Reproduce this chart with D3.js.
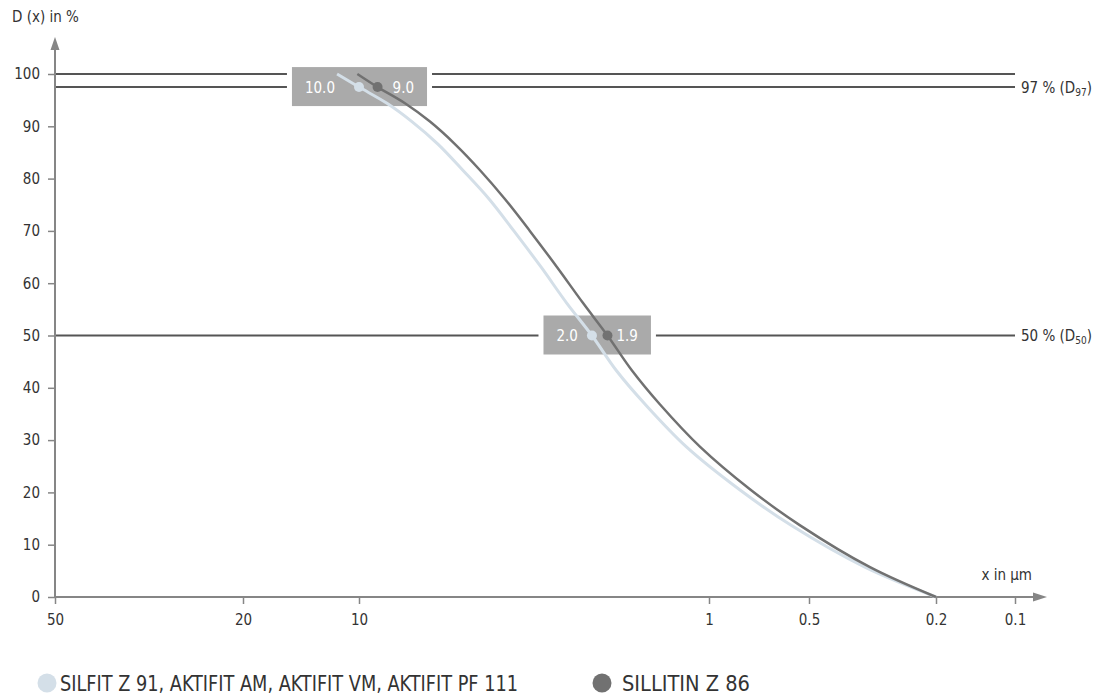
<!DOCTYPE html>
<html>
<head>
<meta charset="utf-8">
<script src="https://cdn.jsdelivr.net/npm/d3@7"></script>
<style>
  body { margin: 0; background: #fff; }
  text { font-family: "DejaVu Sans Condensed", "DejaVu Sans", sans-serif; }
</style>
</head>
<body>
<div id="container"></div>
<script>
// particle size (µm) vs cumulative share D(x) in %
var xTicks = [50, 20, 10, 1, 0.5, 0.2, 0.1];
var xTickLabels = ["50", "20", "10", "1", "0.5", "0.2", "0.1"];
var yTicks = [0, 10, 20, 30, 40, 50, 60, 70, 80, 90, 100];

var silfitSize = [11.4, 10.0, 8.32, 7.06, 5.95, 5.05, 4.25, 3.61, 3.02, 2.55, 2.16, 1.84, 1.52, 1.16, 0.812, 0.566, 0.334, 0.2];
var silfitPct  = [100, 97.5, 94.4, 90.9, 86.6, 81.6, 76.1, 70.0, 63.1, 56.2, 50, 43.3, 36.8, 28.7, 20.6, 13.7, 5.7, 0];
var sillitinSize = [10.1, 8.85, 7.39, 6.27, 5.32, 4.51, 3.83, 3.25, 2.72, 2.29, 1.95, 1.66, 1.38, 1.06, 0.753, 0.532, 0.322, 0.2];
var sillitinPct  = [100, 97.5, 94.4, 90.9, 86.6, 81.6, 76.1, 70.0, 63.1, 56.2, 50, 43.3, 36.8, 28.7, 20.6, 13.7, 5.7, 0];

var refValues = [97.5, 50];
var refLabels = ["97 %", "50 %"];
var refSubs = ["97", "50"];
var topLine = 100;

// marked points: [light, dark]
var markSize = [[10.0, 8.85], [2.16, 1.95]];
var markPct = [97.5, 50];
var markText = [["10.0", "9.0"], ["2.0", "1.9"]];

var legendNames = ["SILFIT Z 91, AKTIFIT AM, AKTIFIT VM, AKTIFIT PF 111", "SILLITIN Z 86"];
var lightColor = "#d4dfe8";
var darkColor = "#717171";

var svg = d3.select("#container")
  .append("svg")
  .attr("width", 1096)
  .attr("height", 698);

var x = d3.scaleLog()
  .domain(xTicks)
  .range([55, 243, 359, 709, 809, 936, 1015]);
var y = d3.scaleLinear().domain([0, 100]).range([597, 74]);

var axisColor = "#868686";
var textColor = "#333";

// y axis
var yAxis = svg.append("g")
  .attr("transform", "translate(55,0)")
  .call(d3.axisLeft(y).tickValues(yTicks).tickSize(7).tickSizeOuter(0).tickPadding(8));
yAxis.select(".domain").remove();
yAxis.selectAll(".tick line").attr("stroke", axisColor).attr("stroke-width", 1.5);
yAxis.selectAll(".tick text").attr("fill", textColor).style("font-size", "15px")
  .style("font-family", "DejaVu Sans Condensed, sans-serif");

// x axis
var xAxis = svg.append("g")
  .attr("transform", "translate(0," + y(0) + ")")
  .call(d3.axisBottom(x).tickValues(xTicks).tickSize(7).tickSizeOuter(0).tickPadding(10)
    .tickFormat(function(d, i){ return xTickLabels[i]; }));
xAxis.select(".domain").remove();
xAxis.selectAll(".tick line").attr("stroke", axisColor).attr("stroke-width", 1.5);
xAxis.selectAll(".tick text").attr("fill", textColor).style("font-size", "15px")
  .style("font-family", "DejaVu Sans Condensed, sans-serif");

// axis lines with arrow heads
svg.append("line")
  .attr("x1", 55).attr("y1", y(0)).attr("x2", 55).attr("y2", 48)
  .attr("stroke", axisColor).attr("stroke-width", 2);
svg.append("path")
  .attr("d", "M55,37 L59.5,50 L50.5,50 Z")
  .attr("fill", axisColor);
svg.append("line")
  .attr("x1", 55).attr("y1", y(0)).attr("x2", 1036).attr("y2", y(0))
  .attr("stroke", axisColor).attr("stroke-width", 2);
svg.append("path")
  .attr("d", "M1047," + y(0) + " L1033," + (y(0) - 4.5) + " L1033," + (y(0) + 4.5) + " Z")
  .attr("fill", axisColor);

svg.append("text").text("D (x) in %")
  .attr("x", 12).attr("y", 22)
  .attr("fill", textColor).style("font-size", "15px");
svg.append("text").text("x in µm")
  .attr("x", 1032).attr("y", 580)
  .attr("text-anchor", "end")
  .attr("fill", textColor).style("font-size", "15px");

// label boxes (measured first so reference lines can leave a gap)
var gapLeft = [24, 14], gapRight = [15, 9];
var boxes = [];
var labelLayer = svg.append("g");
markPct.forEach(function(p, i){
  var lx = x(markSize[i][0]), dx = x(markSize[i][1]), cy = y(p);
  var tl = labelLayer.append("text").text(markText[i][0])
    .attr("x", lx - gapLeft[i]).attr("y", cy + 5.5)
    .attr("text-anchor", "end")
    .attr("fill", "#fff").style("font-size", "15px");
  var tr = labelLayer.append("text").text(markText[i][1])
    .attr("x", dx + gapRight[i]).attr("y", cy + 5.5)
    .attr("fill", "#fff").style("font-size", "15px");
  var bl = tl.node().getBBox(), br = tr.node().getBBox();
  boxes.push({x0: bl.x - 13, x1: br.x + br.width + 13, cy: cy});
});

// reference lines
var lineColor = "#555";
function segLine(yy, gx0, gx1){
  svg.insert("line", "g")
    .attr("x1", 55).attr("x2", gx0 - 5).attr("y1", yy).attr("y2", yy)
    .attr("stroke", lineColor).attr("stroke-width", 2);
  svg.insert("line", "g")
    .attr("x1", gx1 + 5).attr("x2", 1015).attr("y1", yy).attr("y2", yy)
    .attr("stroke", lineColor).attr("stroke-width", 2);
}
segLine(y(topLine), boxes[0].x0, boxes[0].x1);
refValues.forEach(function(v, i){
  segLine(y(v), boxes[i].x0, boxes[i].x1);
  var t = svg.append("text")
    .attr("x", 1021).attr("y", y(v) + 5.5)
    .attr("fill", textColor).style("font-size", "15px");
  t.append("tspan").text(refLabels[i] + " (D");
  t.append("tspan").text(refSubs[i]).attr("dy", 3).style("font-size", "10px");
  t.append("tspan").text(")").attr("dy", -3);
});

boxes.forEach(function(b){
  labelLayer.insert("rect", "text")
    .attr("x", b.x0).attr("y", b.cy - 20)
    .attr("width", b.x1 - b.x0).attr("height", 39)
    .attr("fill", "#aaaaaa");
});

// curves
var line = d3.line()
  .x(function(d){ return x(d[0]); })
  .y(function(d){ return y(d[1]); })
  .curve(d3.curveCatmullRom.alpha(0.5));

var silfit = d3.zip(silfitSize, silfitPct);
var sillitin = d3.zip(sillitinSize, sillitinPct);

svg.append("path").datum(silfit)
  .attr("d", line).attr("fill", "none")
  .attr("stroke", lightColor).attr("stroke-width", 3);
svg.append("path").datum(sillitin)
  .attr("d", line).attr("fill", "none")
  .attr("stroke", darkColor).attr("stroke-width", 2.5);

markPct.forEach(function(p, i){
  svg.append("circle").attr("cx", x(markSize[i][0])).attr("cy", y(p)).attr("r", 5)
    .attr("fill", lightColor);
  svg.append("circle").attr("cx", x(markSize[i][1])).attr("cy", y(p)).attr("r", 5)
    .attr("fill", darkColor);
});

// legend
var legendX = [47, 602];
var legendTextX = [60, 622];
var legendWidth = [458, 128];
var legendColors = [lightColor, darkColor];
legendNames.forEach(function(n, i){
  svg.append("circle").attr("cx", legendX[i]).attr("cy", 683).attr("r", 9.5)
    .attr("fill", legendColors[i]);
  svg.append("text").text(n)
    .attr("x", legendTextX[i]).attr("y", 691)
    .attr("textLength", legendWidth[i])
    .attr("lengthAdjust", "spacingAndGlyphs")
    .attr("fill", textColor).style("font-size", "21px");
});
</script>
</body>
</html>
